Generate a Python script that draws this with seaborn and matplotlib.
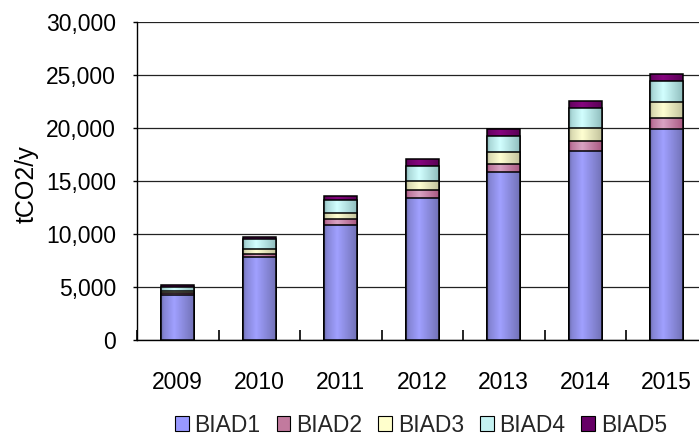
import numpy as np
import pandas as pd
import matplotlib
matplotlib.use("Agg")
import matplotlib.pyplot as plt
import seaborn as sns
from matplotlib.patches import Patch
from matplotlib.ticker import FuncFormatter, FixedLocator

years = ["2009", "2010", "2011", "2012", "2013", "2014", "2015"]
series_names = ["BIAD1", "BIAD2", "BIAD3", "BIAD4", "BIAD5"]
biad1 = [4250, 7850, 10850, 13400, 15850, 17850, 19900]
biad2 = [150, 300, 540, 760, 800, 950, 1070]
biad3 = [250, 470, 570, 880, 1040, 1200, 1450]
biad4 = [350, 880, 1260, 1410, 1600, 1890, 2010]
biad5 = [200, 200, 380, 600, 600, 690, 630]
yticks = [0, 5000, 10000, 15000, 20000, 25000, 30000]

values = [biad1, biad2, biad3, biad4, biad5]
light = ["#A0A0FF", "#D9A3C3", "#FFFFD2", "#D2FFFF", "#86057F"]
dark = ["#62629E", "#9A3F6C", "#AEAE8A", "#7AA8A8", "#4A0046"]
legend_cols = ["#9999FF", "#C27A9E", "#FFFFCC", "#C4F2F2", "#660066"]

sns.set_theme(style="white")
plt.rcParams["font.family"] = ["Liberation Sans", "DejaVu Sans"]

W, H = 699, 437
fig = plt.figure(figsize=(W / 100, H / 100), dpi=100)
ax_left, ax_right, ax_top, ax_bot = 137, 707.5, 22, 340
ax = fig.add_axes([ax_left / W, 1 - ax_bot / H, (ax_right - ax_left) / W, (ax_bot - ax_top) / H])

cum = np.cumsum(np.array(values, dtype=float), axis=0)

t = np.linspace(0, 1, 64)
w = np.interp(t, [0, 0.08, 0.4, 0.85, 1], [0.15, 0.55, 1.0, 0.45, 0.25])

def grad_img(c_light, c_dark):
    cl = np.array(matplotlib.colors.to_rgb(c_light))
    cd = np.array(matplotlib.colors.to_rgb(c_dark))
    img = cd[None, :] + (cl - cd)[None, :] * w[:, None]
    return img[None, :, :]

layer_patches = []
for k, i in enumerate(range(4, -1, -1)):
    df = pd.DataFrame({"year": years, "value": cum[i]})
    n_before = len(ax.patches)
    sns.barplot(data=df, x="year", y="value", color=light[i], width=0.4,
                edgecolor="black", linewidth=1.1, errorbar=None, ax=ax)
    new = ax.patches[n_before:]
    layer_patches.append((i, k, new))

for i, k, patches in layer_patches:
    img = grad_img(light[i], dark[i])
    for p in patches:
        x0 = p.get_x()
        x1 = x0 + p.get_width()
        y1 = p.get_height()
        p.set_facecolor("none")
        p.set_zorder(4 + 3 * k)
        im = ax.imshow(img, extent=[x0, x1, 0, y1], aspect="auto",
                       zorder=3 + 3 * k, interpolation="bilinear")
        im.set_clip_path(p)

ax.set_xlim(-0.5, 6.5)
ax.set_ylim(0, 30000)
ax.set_yticks(yticks)
ax.yaxis.set_major_formatter(FuncFormatter(lambda v, _: f"{int(v):,}"))
ax.set_axisbelow(True)
ax.yaxis.grid(True, color="#222222", linewidth=0.9)
ax.xaxis.grid(False)

for s in ["top", "right"]:
    ax.spines[s].set_visible(False)
for s in ["left", "bottom"]:
    ax.spines[s].set_color("black")
    ax.spines[s].set_linewidth(1.0)

ax.set_xticks(range(len(years)))
ax.set_xticklabels(years)
ax.xaxis.set_minor_locator(FixedLocator(np.arange(-0.5, 7.0, 1.0)))
ax.tick_params(axis="x", which="major", length=0, pad=22, labelsize=16.5, colors="black")
ax.tick_params(axis="x", which="minor", direction="in", length=7, width=1.2, color="black",
               bottom=True, top=False)
ax.tick_params(axis="y", which="major", direction="out", length=3, width=1.0, pad=12,
               labelsize=16.5, colors="black", left=True)

ax.set_xlabel("")
ax.set_ylabel("tCO2/y", fontsize=18, color="black")
ax.yaxis.set_label_coords(-0.172, 0.49)

handles = [Patch(facecolor=legend_cols[i], edgecolor="black", linewidth=0.8, label=series_names[i])
           for i in range(5)]
fig.legend(handles=handles, loc="center", bbox_to_anchor=(421 / W, 1 - 425 / H), ncol=5,
           frameon=False, fontsize=16.5, handlelength=0.6, handleheight=0.6,
           handletextpad=0.25, columnspacing=0.7, borderaxespad=0, borderpad=0)

fig.savefig("out.png", dpi=100)
